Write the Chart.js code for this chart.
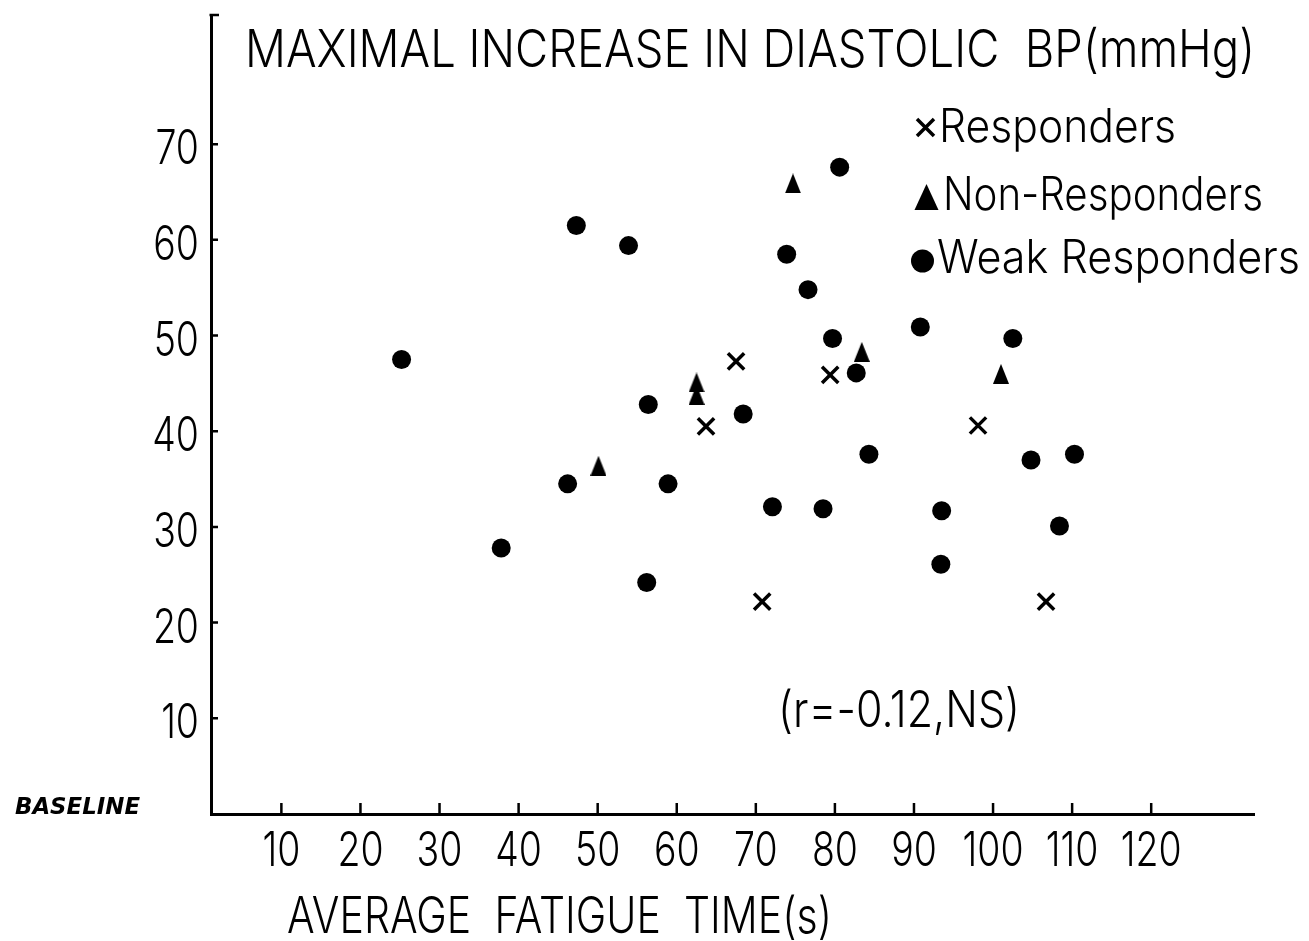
<!DOCTYPE html>
<html>
<head>
<meta charset="utf-8">
<script src="https://cdn.jsdelivr.net/npm/chart.js@4.4.1/dist/chart.umd.min.js"></script>
<style>
  html, body { margin: 0; padding: 0; background: #ffffff; }
  #wrap { width: 1309px; height: 941px; }
</style>
</head>
<body>
<div id="wrap"><canvas id="c" width="1309" height="941"></canvas></div>
<script>
// ---------- data ----------
const xTicks = [10, 20, 30, 40, 50, 60, 70, 80, 90, 100, 110, 120];
const yTicks = [10, 20, 30, 40, 50, 60, 70];

const seriesNames = ['Responders', 'Non-Responders', 'Weak Responders'];

const respondersX = [63.7, 67.5, 70.8, 79.4, 98.1, 106.7];
const respondersY = [40.5, 47.3, 22.2, 45.9, 40.6, 22.2];

const nonRespondersX = [50.1, 62.5, 62.5, 74.7, 83.4, 101.0];
const nonRespondersY = [36.4, 45.1, 43.8, 65.9, 48.3, 46.0];

const weakRespondersX = [25.2, 37.8, 46.2, 47.3, 53.9, 56.2, 56.4, 58.9, 68.4, 72.1, 73.9, 76.6,
                         78.5, 79.7, 80.6, 82.7, 84.3, 90.8, 93.4, 93.5, 102.5, 104.8, 108.4, 110.3];
const weakRespondersY = [47.5, 27.8, 34.5, 61.5, 59.4, 24.2, 42.8, 34.5, 41.8, 32.1, 58.5, 54.8,
                         31.9, 49.7, 67.6, 46.1, 37.6, 50.9, 26.1, 31.7, 49.7, 37.0, 30.1, 37.6];

const chartTitle = 'MAXIMAL INCREASE IN DIASTOLIC  BP(mmHg)';
const xAxisTitle = 'AVERAGE  FATIGUE  TIME(s)';
const noteText = '(r=-0.12,NS)';
const baselineText = 'BASELINE';

// ---------- helpers ----------
const pairs = (xs, ys) => xs.map((x, i) => ({ x: x, y: ys[i] }));

function makeTriangle(w, h) {
  const c = document.createElement('canvas');
  c.width = w; c.height = h;
  const g = c.getContext('2d');
  g.fillStyle = '#000';
  g.beginPath();
  g.moveTo(w / 2, 0);
  g.lineTo(w, h);
  g.lineTo(0, h);
  g.closePath();
  g.fill();
  return c;
}
const triImg = makeTriangle(16, 20);

const FONT_FAMILY = "Inter, 'DejaVu Sans', sans-serif";

function fitText(ctx, text, x, y, font, width, align) {
  ctx.font = font;
  const w = ctx.measureText(text).width;
  const sx = width / w;
  ctx.save();
  ctx.translate(x, y);
  ctx.scale(sx, 1);
  ctx.textAlign = align || 'left';
  ctx.textBaseline = 'alphabetic';
  ctx.fillText(text, 0, 0);
  ctx.restore();
}
function scaledText(ctx, text, x, y, font, sx, align) {
  ctx.font = font;
  ctx.save();
  ctx.translate(x, y);
  ctx.scale(sx, 1);
  ctx.textAlign = align || 'left';
  ctx.textBaseline = 'alphabetic';
  ctx.fillText(text, 0, 0);
  ctx.restore();
}

const annotPlugin = {
  id: 'annot',
  afterDraw(chart) {
    const ctx = chart.ctx;
    const xs = chart.scales.x, ys = chart.scales.y;
    const area = chart.chartArea;
    ctx.save();
    ctx.fillStyle = '#000';
    ctx.strokeStyle = '#000';

    // inward tick marks + small hook at top of y axis
    ctx.lineWidth = 2.5;
    ctx.beginPath();
    xs.ticks.forEach(t => {
      const px = xs.getPixelForValue(t.value);
      ctx.moveTo(px, area.bottom);
      ctx.lineTo(px, area.bottom - 11);
    });
    ys.ticks.forEach(t => {
      const py = ys.getPixelForValue(t.value);
      ctx.moveTo(area.left, py);
      ctx.lineTo(area.left + 7, py);
    });
    ctx.moveTo(area.left - 1.5, area.top);
    ctx.lineTo(area.left + 8, area.top);
    ctx.stroke();

    // tick labels
    const tickFont = '300 48px ' + FONT_FAMILY;
    ctx.font = tickFont;
    const tsx = 61 / ctx.measureText('100').width;
    xs.ticks.forEach(t => {
      const px = xs.getPixelForValue(t.value);
      scaledText(ctx, String(t.value), px, area.bottom + 52, tickFont, tsx, 'center');
    });
    ys.ticks.forEach(t => {
      const py = ys.getPixelForValue(t.value);
      scaledText(ctx, String(t.value), area.left - 12, py + 20, tickFont, tsx, 'right');
    });

    // title, axis title, note
    fitText(ctx, chartTitle, 245, 67, '300 52px ' + FONT_FAMILY, 1010, 'left');
    fitText(ctx, xAxisTitle, 287, 933, '300 50px ' + FONT_FAMILY, 545, 'left');
    fitText(ctx, noteText, 778, 727, '300 50px ' + FONT_FAMILY, 242, 'left');
    fitText(ctx, baselineText, 15, 814, "italic bold 23px 'DejaVu Sans', sans-serif", 125, 'left');

    // legend
    const legFont = '300 46px ' + FONT_FAMILY;
    // x marker
    ctx.lineWidth = 3.5;
    ctx.beginPath();
    ctx.moveTo(917, 119); ctx.lineTo(934, 136);
    ctx.moveTo(934, 119); ctx.lineTo(917, 136);
    ctx.stroke();
    fitText(ctx, seriesNames[0], 939, 142, legFont, 237, 'left');
    // triangle marker
    ctx.beginPath();
    ctx.moveTo(926.5, 184); ctx.lineTo(938.5, 210); ctx.lineTo(914.5, 210); ctx.closePath();
    ctx.fill();
    fitText(ctx, seriesNames[1], 943, 210, legFont, 320, 'left');
    // circle marker
    ctx.beginPath();
    ctx.arc(922.5, 261, 11.5, 0, Math.PI * 2);
    ctx.fill();
    fitText(ctx, seriesNames[2], 937, 273, legFont, 363, 'left');

    ctx.restore();
  }
};

const chart = new Chart(document.getElementById('c'), {
  type: 'scatter',
  data: {
    datasets: [
      {
        label: seriesNames[2],
        data: pairs(weakRespondersX, weakRespondersY),
        pointStyle: 'circle',
        pointRadius: 9.5,
        backgroundColor: '#000',
        borderColor: '#000',
        borderWidth: 0
      },
      {
        label: seriesNames[1],
        data: pairs(nonRespondersX, nonRespondersY),
        pointStyle: triImg,
        pointRadius: 10,
        backgroundColor: '#000',
        borderColor: '#000'
      },
      {
        label: seriesNames[0],
        data: pairs(respondersX, respondersY),
        pointStyle: 'crossRot',
        pointRadius: 11.5,
        backgroundColor: '#000',
        borderColor: '#000',
        borderWidth: 3.5
      }
    ]
  },
  options: {
    responsive: false,
    animation: false,
    events: [],
    layout: { padding: { top: 10, right: 55, left: 0, bottom: 0 } },
    plugins: {
      legend: { display: false },
      tooltip: { enabled: false },
      title: { display: false }
    },
    scales: {
      x: {
        type: 'linear',
        min: 1.1,
        max: 133,
        afterBuildTicks: s => { s.ticks = xTicks.map(v => ({ value: v })); },
        afterFit: s => { s.height = 127; },
        grid: { display: false, drawTicks: false },
        border: { display: true, color: '#000', width: 3 },
        ticks: { display: false }
      },
      y: {
        type: 'linear',
        min: 0,
        max: 83.5,
        afterBuildTicks: s => { s.ticks = yTicks.map(v => ({ value: v })); },
        afterFit: s => { s.width = 211; },
        grid: { display: false, drawTicks: false },
        border: { display: true, color: '#000', width: 3 },
        ticks: { display: false }
      }
    }
  },
  plugins: [annotPlugin]
});
</script>
</body>
</html>
